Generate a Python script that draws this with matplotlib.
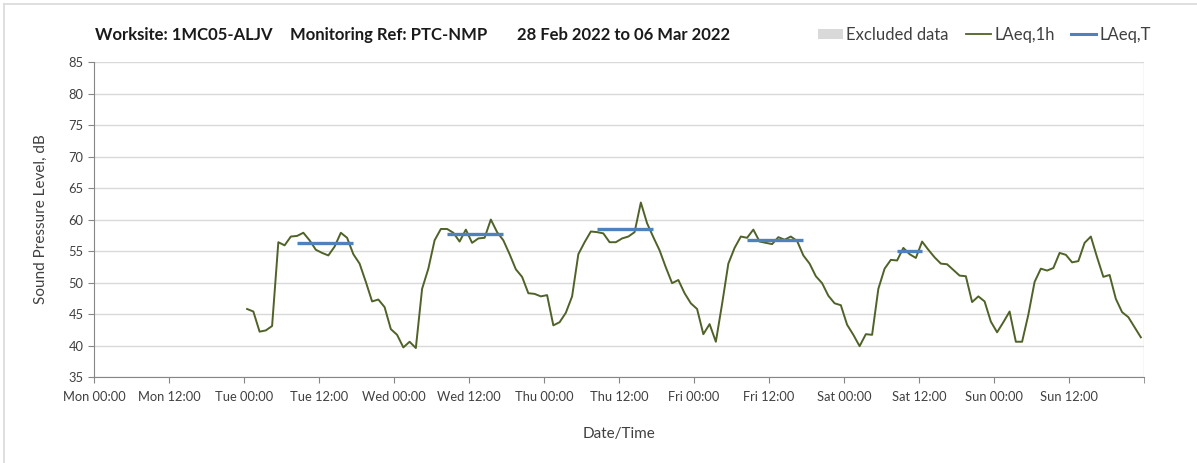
import numpy as np
import matplotlib
matplotlib.use('Agg')
from matplotlib import pyplot as plt
from matplotlib.patches import Patch
from matplotlib.lines import Line2D

plt.rcParams['font.family'] = ['Lato', 'DejaVu Sans']

# hourly LAeq,1h readings, first one at Tue 00:30 (hours counted from Mon 00:00)
first_hour = 24.5
laeq_1h = [45.8, 45.4, 42.2, 42.4, 43.1, 56.4, 55.9, 57.3, 57.4, 57.9, 56.7, 55.2,
           54.7, 54.3, 55.7, 57.9, 57.1, 54.5, 53.0, 50.1, 47.0, 47.3, 46.1, 42.6,
           41.7, 39.7, 40.6, 39.6, 49.0, 52.2, 56.7, 58.5, 58.5, 57.9, 56.5, 58.4,
           56.3, 57.0, 57.1, 60.0, 58.0, 56.7, 54.5, 52.1, 50.9, 48.3, 48.2, 47.8,
           48.0, 43.2, 43.7, 45.2, 47.8, 54.5, 56.4, 58.1, 58.0, 57.8, 56.4, 56.4,
           57.0, 57.3, 58.0, 62.7, 59.4, 57.2, 55.1, 52.4, 49.9, 50.4, 48.3, 46.7,
           45.8, 41.8, 43.4, 40.6, 46.6, 53.0, 55.5, 57.3, 57.1, 58.4, 56.5, 56.3,
           56.1, 57.2, 56.8, 57.3, 56.6, 54.3, 53.0, 51.0, 49.9, 47.9, 46.7, 46.4,
           43.3, 41.7, 39.9, 41.8, 41.7, 49.0, 52.2, 53.6, 53.5, 55.5, 54.5, 53.9,
           56.5, 55.2, 54.0, 53.0, 52.9, 52.0, 51.1, 51.0, 46.9, 47.8, 47.0, 43.8,
           42.1, 43.7, 45.4, 40.6, 40.6, 44.9, 50.1, 52.2, 51.9, 52.3, 54.7, 54.4,
           53.2, 53.4, 56.3, 57.3, 54.0, 50.9, 51.2, 47.4, 45.3, 44.5, 42.9, 41.3]
hours = first_hour + np.arange(len(laeq_1h))

# LAeq,T over the working period of each day
period_start = [32.5, 56.5, 80.5, 104.5, 128.5]
period_end = [41.5, 65.5, 89.5, 113.5, 132.5]
laeq_t = [56.3, 57.7, 58.5, 56.8, 55.0]

tick_labels = ['Mon 00:00', 'Mon 12:00', 'Tue 00:00', 'Tue 12:00', 'Wed 00:00',
               'Wed 12:00', 'Thu 00:00', 'Thu 12:00', 'Fri 00:00', 'Fri 12:00',
               'Sat 00:00', 'Sat 12:00', 'Sun 00:00', 'Sun 12:00']

green = '#4F6228'
blue = '#4F81BD'
grid_c = '#D9D9D9'
text_c = '#404040'

fig = plt.figure(figsize=(11.97, 4.63), dpi=100)
ax = fig.add_axes([0.0785, 0.1857, 0.8772, 0.6803])

# outer chart border
fig.add_artist(Line2D([0.0035, 0.0035], [0, 0.991], color=grid_c, lw=1.2))
fig.add_artist(Line2D([0.0035, 1], [0.991, 0.991], color=grid_c, lw=1.2))

ax.plot(hours, laeq_1h, color=green, lw=1.4, zorder=3)
for s, e, v in zip(period_start, period_end, laeq_t):
    ax.plot([s, e], [v, v], color=blue, lw=2.4, solid_capstyle='butt', zorder=4)

ax.set_xlim(0, 168)
ax.set_ylim(35, 85)
ax.set_yticks(np.arange(35, 86, 5))
ax.set_xticks(np.arange(0, 168, 12))
ax.set_xticklabels(tick_labels)
ax.set_xticks(np.arange(0, 169, 24), minor=True)
ax.grid(axis='y', color=grid_c, lw=1)
ax.grid(axis='x', which='minor', color=grid_c, lw=1)
ax.grid(axis='x', which='major', visible=False)
ax.set_axisbelow(True)

for side in ['top', 'right']:
    ax.spines[side].set_visible(False)
for side in ['left', 'bottom']:
    ax.spines[side].set_color('#868686')
ax.tick_params(axis='both', which='both', length=4, color='#868686',
               labelcolor=text_c, labelsize=9.3)
ax.tick_params(axis='x', which='minor', length=4)
ax.tick_params(axis='x', pad=6)

ax.set_ylabel('Sound Pressure Level, dB', fontsize=11, color=text_c, labelpad=15)
ax.set_xlabel('Date/Time', fontsize=11, color=text_c, labelpad=17)

fig.text(95 / 1197, 1 - 35 / 463, 'Worksite: 1MC05-ALJV', fontsize=12,
         fontweight='bold', va='center', color='#1a1a1a')
fig.text(290 / 1197, 1 - 35 / 463, 'Monitoring Ref: PTC-NMP', fontsize=12,
         fontweight='bold', va='center', color='#1a1a1a')
fig.text(517 / 1197, 1 - 35 / 463, '28 Feb 2022 to 06 Mar 2022', fontsize=12,
         fontweight='bold', va='center', color='#1a1a1a')

handles = [Patch(facecolor='#D9D9D9', edgecolor='none'),
           Line2D([], [], color=green, lw=1.3),
           Line2D([], [], color=blue, lw=2.2)]
fig.legend(handles, ['Excluded data', 'LAeq,1h', 'LAeq,T'], loc='center right',
           bbox_to_anchor=(1166 / 1197, 1 - 35 / 463), ncol=3, frameon=False,
           fontsize=12, handlelength=1.5, handletextpad=0.2, columnspacing=1.0,
           labelcolor=text_c, handleheight=0.6)

fig.savefig('out.png', dpi=100)
